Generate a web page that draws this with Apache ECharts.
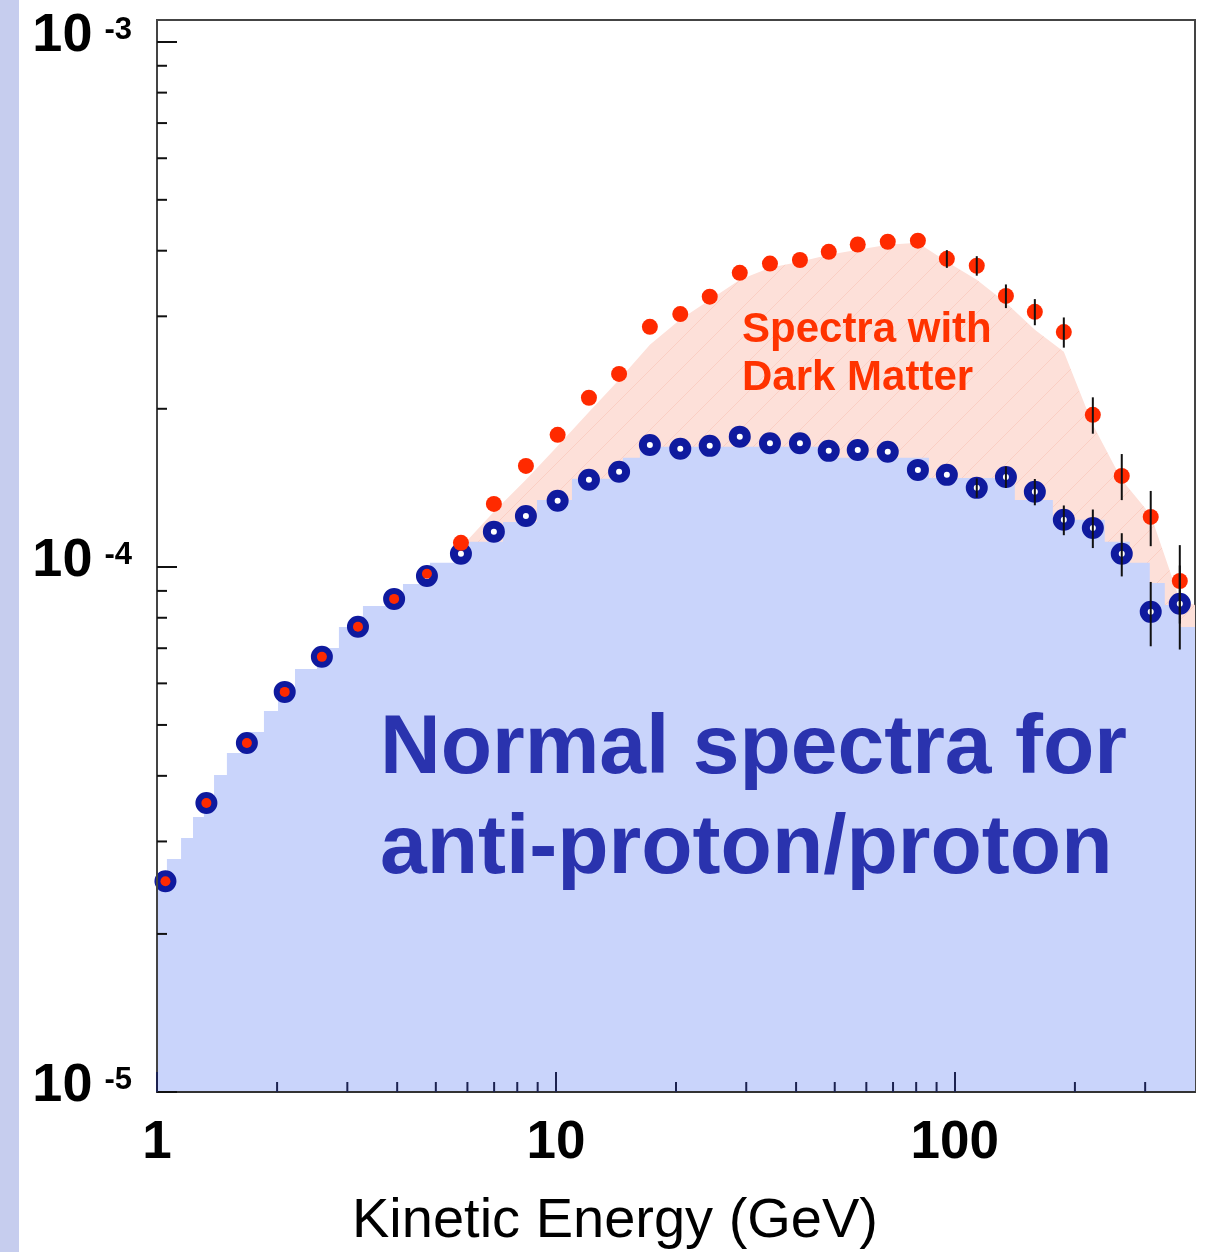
<!DOCTYPE html>
<html>
<head>
<meta charset="utf-8">
<script src="https://cdn.jsdelivr.net/npm/echarts@6/dist/echarts.min.js"></script>
<style>
  html, body { margin: 0; padding: 0; background: #fff; }
  #chart { width: 1220px; height: 1252px; }
</style>
</head>
<body>
<div id="chart"></div>
<script>
// measured points (kinetic energy in GeV)
const energy = [1.05, 1.33, 1.68, 2.09, 2.59, 3.19, 3.93, 4.75, 5.78, 6.99, 8.41, 10.1, 12.1, 14.4, 17.2, 20.5,
  24.3, 28.9, 34.4, 40.9, 48.3, 57.1, 67.9, 80.8, 95.5, 113.5, 134.3, 158.7, 187.6, 221.8, 262.1, 309.8, 366.4];
// normal anti-proton/proton ratio (blue rings)
const normalFlux = [2.52e-5, 3.55e-5, 4.62e-5, 5.78e-5, 6.74e-5, 7.69e-5, 8.69e-5, 9.61e-5, 1.059e-4, 1.167e-4,
  1.25e-4, 1.336e-4, 1.465e-4, 1.517e-4, 1.707e-4, 1.679e-4, 1.70e-4, 1.77e-4, 1.72e-4, 1.72e-4, 1.663e-4,
  1.67e-4, 1.656e-4, 1.53e-4, 1.497e-4, 1.414e-4, 1.483e-4, 1.39e-4, 1.229e-4, 1.186e-4, 1.059e-4, 8.21e-5, 8.51e-5];
const normalErr = [0, 0, 0, 0, 0, 0, 0, 0, 0, 0, 0, 0, 0, 0, 0, 0, 0, 0, 0, 0, 0, 0, 0, 0, 0, 6e-6,
  7e-6, 8e-6, 8e-6, 1.0e-5, 1.0e-5, 1.15e-5, 1.55e-5];
// spectrum with dark matter (red dots)
const darkFlux = [2.52e-5, 3.55e-5, 4.62e-5, 5.78e-5, 6.74e-5, 7.69e-5, 8.69e-5, 9.7e-5, 1.111e-4, 1.318e-4,
  1.557e-4, 1.784e-4, 2.099e-4, 2.33e-4, 2.865e-4, 3.03e-4, 3.27e-4, 3.63e-4, 3.78e-4, 3.84e-4, 3.98e-4,
  4.11e-4, 4.16e-4, 4.18e-4, 3.86e-4, 3.745e-4, 3.28e-4, 3.06e-4, 2.80e-4, 1.948e-4, 1.49e-4, 1.245e-4, 9.4e-5];
const darkErr = [0, 0, 0, 0, 0, 0, 0, 0, 0, 0, 0, 0, 0, 0, 0, 0, 0, 0, 0, 0, 0, 0, 0, 0, 1.5e-5, 1.6e-5,
  1.7e-5, 1.75e-5, 1.85e-5, 1.55e-5, 1.5e-5, 1.5e-5, 1.6e-5];

// normal spectrum model histogram (bin left edges / heights)
const normalBinEdges = [1.0, 1.059, 1.149, 1.231, 1.311, 1.39, 1.497, 1.681, 1.854, 2.011, 2.218, 2.518, 2.858,
  3.283, 4.136, 4.833, 5.983, 7.365, 8.964, 10.97, 14.72, 16.24, 48.6, 86.1, 141.4, 176.1, 237.6, 274.5, 308.1,
  336.0, 366.4];
const normalBinFlux = [2.512e-5, 2.779e-5, 3.047e-5, 3.341e-5, 3.663e-5, 4.016e-5, 4.421e-5, 4.848e-5, 5.316e-5,
  5.829e-5, 6.391e-5, 7.008e-5, 7.684e-5, 8.425e-5, 9.281e-5, 1.018e-4, 1.116e-4, 1.218e-4, 1.341e-4, 1.471e-4,
  1.613e-4, 1.693e-4, 1.613e-4, 1.477e-4, 1.341e-4, 1.229e-4, 1.116e-4, 1.018e-4, 9.32e-5, 8.46e-5, 7.68e-5];

// dark matter model band (upper edge)
const darkBandE = [5.85, 6.99, 8.41, 10.06, 12.1, 14.38, 17.2, 20.46, 24.32, 28.92, 34.39, 40.88, 48.33, 57.14,
  67.94, 80.78, 95.5, 113.5, 134.3, 158.7, 187.6, 221.8, 262.1, 309.8, 366.4, 400];
const darkBandFlux = [1.101e-4, 1.273e-4, 1.465e-4, 1.693e-4, 1.973e-4, 2.27e-4, 2.648e-4, 2.954e-4, 3.225e-4,
  3.522e-4, 3.711e-4, 3.811e-4, 3.929e-4, 4.016e-4, 4.105e-4, 4.141e-4, 3.811e-4, 3.522e-4, 3.183e-4, 2.827e-4,
  2.568e-4, 1.864e-4, 1.465e-4, 1.256e-4, 8.65e-5, 8.46e-5];

const xMin = 1, xMax = 400, yMin = 1e-5, yMax = 1.1e-3;
const xMinorTicks = [2, 3, 4, 5, 6, 7, 8, 9, 20, 30, 40, 50, 60, 70, 80, 90, 200, 300];
const yMinorTicks = [2e-5, 3e-5, 4e-5, 5e-5, 6e-5, 7e-5, 8e-5, 9e-5, 2e-4, 3e-4, 4e-4, 5e-4, 6e-4, 7e-4, 8e-4, 9e-4];

// hatch pattern for the dark matter band
const hatch = document.createElement('canvas');
hatch.width = 30; hatch.height = 30;
{
  const ctx = hatch.getContext('2d');
  ctx.fillStyle = '#fde0d9';
  ctx.fillRect(0, 0, 30, 30);
  ctx.strokeStyle = '#fbcfc4';
  ctx.lineWidth = 1;
  ctx.beginPath();
  ctx.moveTo(-2, 32); ctx.lineTo(32, -2);
  ctx.stroke();
}

const normalSteps = normalBinEdges.map((e, i) => [e, normalBinFlux[i]]);
normalSteps.push([xMax, normalBinFlux[normalBinFlux.length - 1]]);
const darkBand = darkBandE.map((e, i) => [e, darkBandFlux[i]]);
const normalPts = energy.map((e, i) => [e, normalFlux[i]]);
const darkPts = energy.map((e, i) => [e, darkFlux[i]]);
const errBars = [];
energy.forEach((e, i) => {
  if (normalErr[i]) errBars.push([e, normalFlux[i] - normalErr[i], normalFlux[i] + normalErr[i]]);
  if (darkErr[i]) errBars.push([e, darkFlux[i] - darkErr[i], darkFlux[i] + darkErr[i]]);
});

const chart = echarts.init(document.getElementById('chart'));
const option = {
  animation: false,
  grid: { left: 157, right: 25, top: 20, bottom: 160, show: true, borderColor: '#444', borderWidth: 2 },
  xAxis: {
    type: 'log', logBase: 10, min: xMin, max: xMax, z: 10,
    axisLine: { show: true, lineStyle: { color: '#333', width: 2 } },
    axisTick: { inside: true, length: 20, lineStyle: { color: '#1c2250', width: 2 } },
    splitLine: { show: false },
    axisLabel: {
      margin: 25, showMaxLabel: false,
      fontFamily: 'Liberation Sans', fontWeight: 'bold', fontSize: 53, color: '#000'
    }
  },
  yAxis: {
    type: 'log', logBase: 10, min: yMin, max: yMax, z: 10,
    axisLine: { show: true, lineStyle: { color: '#444', width: 2 } },
    axisTick: { inside: true, length: 20, lineStyle: { color: '#111', width: 2 } },
    splitLine: { show: false },
    axisLabel: {
      margin: 25, showMaxLabel: false, padding: [0, 0, 12, 0],
      formatter: (v) => '{b|10}{s|' + Math.round(Math.log10(v)) + '}',
      rich: {
        b: { fontFamily: 'Liberation Sans', fontWeight: 'bold', fontSize: 54, lineHeight: 54, color: '#000' },
        s: { fontFamily: 'Liberation Sans', fontWeight: 'bold', fontSize: 31, lineHeight: 31, color: '#000',
          verticalAlign: 'top', padding: [6, 0, 0, 12] }
      }
    }
  },
  series: [
    {
      type: 'line', data: darkBand, z: 1, showSymbol: false, silent: true,
      lineStyle: { width: 0 },
      areaStyle: { origin: 'start', opacity: 1, color: { image: hatch, repeat: 'repeat' } }
    },
    {
      type: 'line', data: normalSteps, step: 'end', z: 2, showSymbol: false, silent: true,
      lineStyle: { width: 0 },
      areaStyle: { origin: 'start', opacity: 1, color: '#c9d4fb' }
    },
    {
      type: 'scatter', data: normalPts, z: 3, symbol: 'circle', symbolSize: 14,
      itemStyle: { color: '#fff', borderColor: '#0f1a9e', borderWidth: 8, opacity: 1 }
    },
    {
      type: 'scatter', data: darkPts, z: 4, symbol: 'circle',
      symbolSize: (v, p) => Math.abs(darkFlux[p.dataIndex] / normalFlux[p.dataIndex] - 1) < 0.03 ? 10 : 16,
      itemStyle: { color: '#ff2a00', opacity: 1 }
    },
    {
      type: 'custom', data: errBars, z: 5, clip: false, encode: { x: 0, y: [1, 2] },
      renderItem: (params, api) => {
        const lo = api.coord([api.value(0), api.value(1)]);
        const hi = api.coord([api.value(0), api.value(2)]);
        return { type: 'line', shape: { x1: lo[0], y1: lo[1], x2: hi[0], y2: hi[1] },
          style: { stroke: '#111', lineWidth: 2 } };
      }
    },
    {
      type: 'custom', data: xMinorTicks.map(v => [v, yMin]), z: 11, clip: false,
      renderItem: (params, api) => {
        const p = api.coord([api.value(0), api.value(1)]);
        return { type: 'line', shape: { x1: p[0], y1: p[1], x2: p[0], y2: p[1] - 10 },
          style: { stroke: '#1c2250', lineWidth: 2 } };
      }
    },
    {
      type: 'custom', data: yMinorTicks.map(v => [xMin, v]), z: 11, clip: false,
      renderItem: (params, api) => {
        const p = api.coord([api.value(0), api.value(1)]);
        return { type: 'line', shape: { x1: p[0], y1: p[1], x2: p[0] + 10, y2: p[1] },
          style: { stroke: '#111', lineWidth: 2 } };
      }
    }
  ],
  graphic: [
    { type: 'rect', left: 0, top: 0, z: 0, shape: { width: 19, height: 1252 }, style: { fill: '#c6cdee' } },
    { type: 'text', x: 742, y: 330, z: 20,
      style: { text: 'Spectra with', fill: '#ff3300', font: 'bold 42px "Liberation Sans"', textVerticalAlign: 'middle' } },
    { type: 'text', x: 742, y: 378, z: 20,
      style: { text: 'Dark Matter', fill: '#ff3300', font: 'bold 42px "Liberation Sans"', textVerticalAlign: 'middle' } },
    { type: 'text', x: 380, y: 750, z: 20,
      style: { text: 'Normal spectra for', fill: '#2a33ae', font: 'bold 84px "Liberation Sans"', textVerticalAlign: 'middle' } },
    { type: 'text', x: 380, y: 850, z: 20,
      style: { text: 'anti-proton/proton', fill: '#2a33ae', font: 'bold 84px "Liberation Sans"', textVerticalAlign: 'middle' } },
    { type: 'text', x: 615, y: 1222, z: 20,
      style: { text: 'Kinetic Energy (GeV)', fill: '#000', font: '56px "Liberation Sans"',
        textAlign: 'center', textVerticalAlign: 'middle' } }
  ]
};
chart.setOption(option);
</script>
</body>
</html>
